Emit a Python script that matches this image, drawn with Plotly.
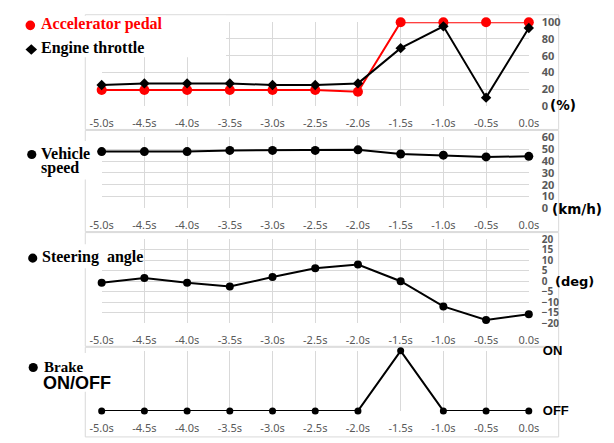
import plotly.graph_objects as go

# ---------------- data ----------------
time_s = [-5.0, -4.5, -4.0, -3.5, -3.0, -2.5, -2.0, -1.5, -1.0, -0.5, 0.0]
time_labels = ["-5.0s", "-4.5s", "-4.0s", "-3.5s", "-3.0s", "-2.5s",
               "-2.0s", "-1.5s", "-1.0s", "-0.5s", "0.0s"]
accelerator_pct = [19, 19, 19, 19, 19, 19, 17, 100, 100, 100, 100]
throttle_pct = [25, 27, 27, 27, 25, 25, 27, 69, 95, 10, 93]
speed_kmh = [48, 48, 48, 49, 49, 49, 49.5, 46, 45, 43.5, 44]
steering_deg = [-0.7, 1.6, -0.7, -2.5, 2, 6.2, 8, 0, -12, -18.5, -15.7]
brake_on = [0, 0, 0, 0, 0, 0, 0, 1, 0, 0, 0]
brake_ticks = [0, 1]
brake_ticktext = ["OFF", "ON"]

W, H = 614, 443
def fx(px):
    return px / W
def fy(py):
    return 1 - py / H

GRID = "#d9d9d9"
TICK = "#595959"
xdom = [fx(93), fx(536)]
panels = [  # (top px, bottom px)
    (14.7, 101.7),
    (134.3, 207.8),
    (240.0, 327.0),
    (355.7, 418.0),
]

fig = go.Figure()

# panel 1
fig.add_trace(go.Scatter(x=time_s, y=accelerator_pct, mode="lines+markers",
                         line=dict(color="#ff0000", width=2),
                         marker=dict(color="#ff0000", size=10, symbol="circle"),
                         xaxis="x", yaxis="y", cliponaxis=False))
fig.add_trace(go.Scatter(x=time_s, y=throttle_pct, mode="lines+markers",
                         line=dict(color="black", width=2),
                         marker=dict(color="black", size=8, symbol="diamond"),
                         xaxis="x", yaxis="y", cliponaxis=False))
# panel 2
fig.add_trace(go.Scatter(x=time_s, y=speed_kmh, mode="lines+markers",
                         line=dict(color="black", width=2),
                         marker=dict(color="black", size=9),
                         xaxis="x2", yaxis="y2", cliponaxis=False))
# panel 3
fig.add_trace(go.Scatter(x=time_s, y=steering_deg, mode="lines+markers",
                         line=dict(color="black", width=2),
                         marker=dict(color="black", size=8),
                         xaxis="x3", yaxis="y3", cliponaxis=False))
# panel 4
fig.add_trace(go.Scatter(x=time_s, y=brake_on, mode="lines+markers",
                         line=dict(color="black", width=2),
                         marker=dict(color="black", size=7),
                         xaxis="x4", yaxis="y4", cliponaxis=False))

yranges = [[0, 100], [0, 60], [-20, 20], [0, 1]]
ydticks = [20, 10, 5, 1]
ytickfont = [11, 11, 10, 13]
layout = {}
for i, ((top, bot), yr, dt, fs) in enumerate(zip(panels, yranges, ydticks, ytickfont)):
    n = "" if i == 0 else str(i + 1)
    layout["xaxis" + n] = dict(
        domain=xdom, range=[-5, 0], anchor="y" + n,
        tickmode="array", tickvals=time_s, ticktext=time_labels,
        showgrid=True, gridcolor=GRID, gridwidth=1, zeroline=False,
        showline=False, ticks="", ticklabelstandoff=9,
        tickfont=dict(family="Noto Sans", size=11, color=TICK),
    )
    ya = dict(
        domain=[fy(bot), fy(top)], range=yr, anchor="x" + n, side="right",
        showgrid=True, gridcolor=GRID, gridwidth=1, zeroline=False,
        showline=False, ticks="", ticklabelstandoff=12,
        tickfont=dict(family="Noto Sans", size=fs, color=TICK, weight="bold"),
    )
    if i == 3:
        ya.update(tickmode="array", tickvals=brake_ticks, ticktext=brake_ticktext,
                  tickfont=dict(family="Liberation Sans", size=13, color="black",
                                weight="bold"),
                  ticklabelstandoff=13)
    else:
        ya.update(dtick=dt, tick0=0)
    layout["yaxis" + n] = ya

fig.update_layout(**layout)

shapes = []
# chart-area frames
for (t, b) in [(7, 126), (127, 232), (233, 351), (352, 445)]:
    shapes.append(dict(type="rect", xref="paper", yref="paper",
                       x0=fx(76), x1=fx(567), y0=fy(b), y1=fy(t),
                       line=dict(color="#d9d9d9", width=1), layer="below"))
# white label boxes
for (x0, y0, x1, y1) in [(0, 8, 222, 51), (0, 138, 79, 178),
                         (0, 245, 133, 270), (0, 358, 92, 398)]:
    shapes.append(dict(type="rect", xref="paper", yref="paper",
                       x0=fx(x0), x1=fx(x1), y0=fy(y1), y1=fy(y0),
                       fillcolor="white", line=dict(width=0), layer="above"))
# bullets
def dot(cx, cy, d, color):
    r = d / 2
    return dict(type="circle", xref="paper", yref="paper",
                x0=fx(cx - r), x1=fx(cx + r), y0=fy(cy + r), y1=fy(cy - r),
                fillcolor=color, line=dict(width=0), layer="above")
shapes.append(dot(19, 18, 10, "#ff0000"))
shapes.append(dot(20.5, 152, 9.5, "black"))
shapes.append(dot(21.5, 259.5, 9.5, "black"))
shapes.append(dot(22, 373, 9.5, "black"))
# diamond bullet
cx, cy, hw, hh = 20, 43, 6, 5.5
path = "M {} {} L {} {} L {} {} L {} {} Z".format(
    fx(cx - hw), fy(cy), fx(cx), fy(cy - hh), fx(cx + hw), fy(cy), fx(cx), fy(cy + hh))
shapes.append(dict(type="path", xref="paper", yref="paper", path=path,
                   fillcolor="black", line=dict(width=0), layer="above"))
fig.update_layout(shapes=shapes)

SERIF = "Liberation Serif"
def ann(text, x, y, size, color="black", family=SERIF, weight="bold"):
    return dict(text=text, x=fx(x), y=fy(y), xref="paper", yref="paper",
                xanchor="left", yanchor="middle", showarrow=False,
                font=dict(family=family, size=size, color=color, weight=weight))

annotations = [
    ann("Accelerator pedal", 28, 17, 16, "#ff0000"),
    ann("Engine throttle", 28, 42, 16),
    ann("Vehicle", 28, 151, 16),
    ann("speed", 28, 166, 16),
    ann("Steering  angle", 29, 258, 16),
    ann("Brake", 31, 372, 15),
    ann("ON/OFF", 30, 389, 18, family="Liberation Sans"),
    ann("(%)", 556, 101, 13.5, family="DejaVu Sans"),
    ann("(km/h)", 558, 209, 13.5, family="DejaVu Sans"),
    ann("(deg)", 561, 284, 13, family="DejaVu Sans"),
]
fig.update_layout(annotations=annotations)

fig.update_layout(width=W, height=H, margin=dict(l=0, r=0, t=0, b=0),
                  paper_bgcolor="white", plot_bgcolor="rgba(0,0,0,0)",
                  showlegend=False)

fig.write_html("out.html", config={"displayModeBar": False},
               post_script="document.body.style.margin='0';")
